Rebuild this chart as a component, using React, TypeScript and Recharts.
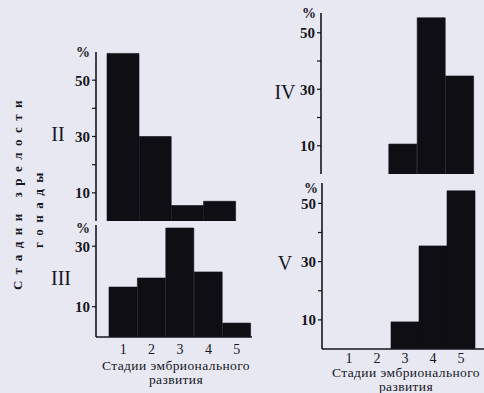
import React from 'react';
import { BarChart, Bar, XAxis, YAxis } from 'recharts';

// stages of embryonic development (x) and share of fish, % (y), one array per gonad maturity stage
const stages = ['1', '2', '3', '4', '5'];
const stageII = [59.5, 30, 5.5, 7, 0];
const stageIII = [16.5, 19.5, 36, 21.5, 4.6];
const stageIV = [0, 0, 10.6, 55.3, 34.7];
const stageV = [0, 0, 9.3, 35.4, 54.3];

const ticksTall = [10, 20, 30, 40, 50];
const ticksShort = [10, 30];
const labelledTicks = [10, 30, 50];

const INK = '#16161e';
const PAPER = '#e8e8f3';
const SERIF = '"Liberation Serif", "DejaVu Serif", serif';

const YTick = (props: any) => {
  const { x, y, payload } = props;
  if (!labelledTicks.includes(payload.value)) return <g />;
  return (
    <text x={x} y={y} dy="0.36em" textAnchor="end" fill={INK} fontSize={15} fontWeight="bold" fontFamily={SERIF}>
      {payload.value}
    </text>
  );
};

interface PanelProps {
  values: number[];
  left: number;
  top: number;
  width: number;
  height: number;
  yMax: number;
  ticks: number[];
  padLeft: number;
  padRight: number;
  showStages: boolean;
  stageGap?: number;
}

const Panel: React.FC<PanelProps> = ({ values, left, top, width, height, yMax, ticks, padLeft, padRight, showStages, stageGap = 0 }) => {
  const data = stages.map((s, i) => ({ stage: s, value: values[i] }));
  return (
    <div style={{ position: 'absolute', left, top }}>
      <BarChart
        width={width}
        height={height}
        data={data}
        margin={{ top: 10, right: 0, bottom: 0, left: 0 }}
        barCategoryGap={0}
        barGap={0}
      >
        <XAxis
          dataKey="stage"
          padding={{ left: padLeft, right: padRight }}
          height={showStages ? 30 : 0}
          tick={showStages ? { fill: INK, fontSize: 14, fontFamily: SERIF } : false}
          tickLine={false}
          tickMargin={stageGap}
          axisLine={{ stroke: INK, strokeWidth: 1.6 }}
        />
        <YAxis
          width={46}
          domain={[0, yMax]}
          allowDataOverflow
          ticks={ticks}
          interval={0}
          tickSize={4}
          tickMargin={2}
          tick={YTick}
          tickLine={{ stroke: INK, strokeWidth: 1.2 }}
          axisLine={{ stroke: INK, strokeWidth: 1.6 }}
        />
        <Bar dataKey="value" fill="#0e0e14" stroke="#0e0e14" strokeWidth={0.6} isAnimationActive={false} />
      </BarChart>
    </div>
  );
};

const Txt: React.FC<{ x: number; y: number; size: number; bold?: boolean; children: React.ReactNode }> = ({ x, y, size, bold, children }) => (
  <div
    style={{
      position: 'absolute',
      left: x,
      top: y,
      transform: 'translate(-50%, -50%)',
      fontSize: size,
      fontWeight: bold ? 'bold' : 'normal',
      whiteSpace: 'nowrap',
      lineHeight: 1,
      color: INK,
    }}
  >
    {children}
  </div>
);

// two-line axis title, top edge given
const StageTitle: React.FC<{ x: number; top: number }> = ({ x, top }) => (
  <div
    style={{
      position: 'absolute',
      left: x,
      top,
      transform: 'translateX(-50%)',
      fontSize: 13.5,
      letterSpacing: 0.4,
      lineHeight: '13.5px',
      textAlign: 'center',
      whiteSpace: 'nowrap',
      color: INK,
    }}
  >
    Стадии эмбрионального
    <br />
    развития
  </div>
);

const vertical: React.CSSProperties = {
  position: 'absolute',
  transform: 'translate(-50%, -50%) rotate(-90deg)',
  fontSize: 13,
  fontWeight: 'bold',
  letterSpacing: 6.5,
  whiteSpace: 'pre',
  lineHeight: 1,
};

const App: React.FC = () => {
  return (
    <div
      style={{
        position: 'absolute',
        left: 0,
        top: 0,
        width: 484,
        height: 393,
        overflow: 'hidden',
        background: PAPER,
        fontFamily: SERIF,
        color: INK,
      }}
    >
      <Panel values={stageII} left={50} top={42} width={230} height={179} yMax={60} ticks={ticksTall} padLeft={11} padRight={12} showStages={false} />
      <Panel values={stageIII} left={50} top={215} width={202} height={152} yMax={37} ticks={ticksShort} padLeft={13} padRight={1} showStages stageGap={1} />
      <Panel values={stageIV} left={275} top={3} width={209} height={171} yMax={57} ticks={ticksTall} padLeft={11} padRight={10} showStages={false} />
      <Panel values={stageV} left={276} top={173} width={208} height={206} yMax={57} ticks={ticksTall} padLeft={13} padRight={9} showStages stageGap={-2} />

      <Txt x={83} y={53} size={14} bold>%</Txt>
      <Txt x={83} y={229} size={14} bold>%</Txt>
      <Txt x={309} y={14} size={14} bold>%</Txt>
      <Txt x={311} y={189} size={14} bold>%</Txt>

      <Txt x={58} y={134} size={20}>II</Txt>
      <Txt x={61} y={278} size={20}>III</Txt>
      <Txt x={285} y={92} size={20}>IV</Txt>
      <Txt x={285} y={263} size={20}>V</Txt>

      <StageTitle x={176} top={359} />
      <StageTitle x={406} top={366} />

      <div style={{ ...vertical, left: 17, top: 192 }}>Стадии зрелости</div>
      <div style={{ ...vertical, left: 38, top: 207 }}>гонады</div>
    </div>
  );
};

export default App;
